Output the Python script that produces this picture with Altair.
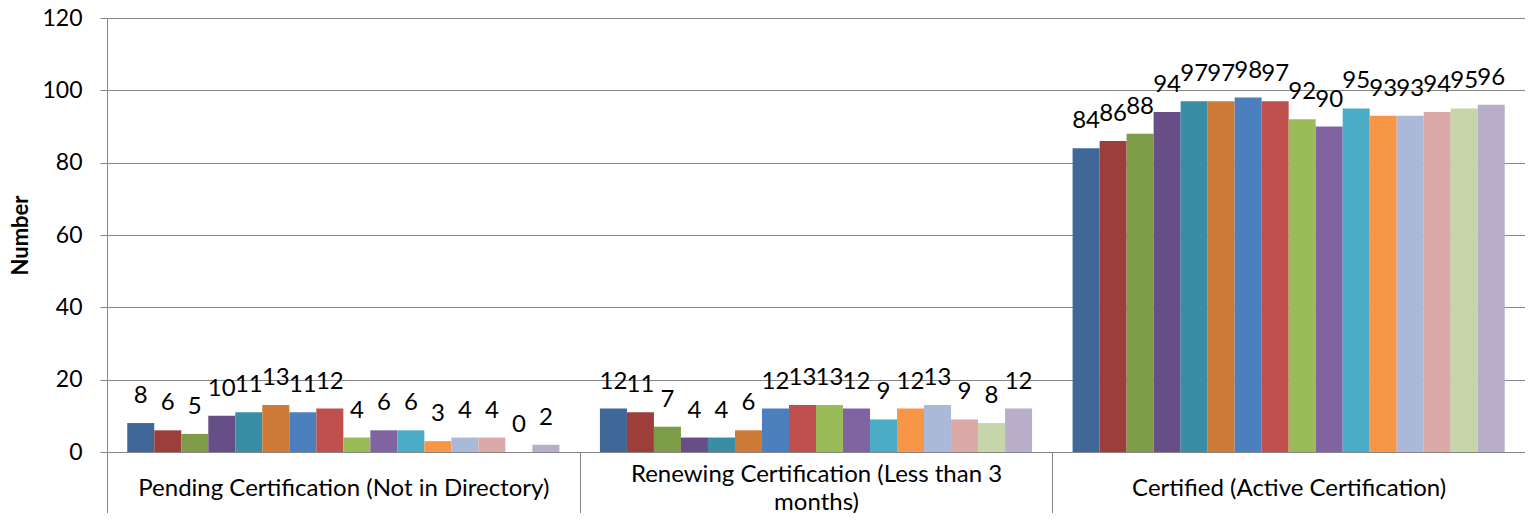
import altair as alt
import pandas as pd

categories = [
    "Pending Certification (Not in Directory)",
    "Renewing Certification (Less than 3 months)",
    "Certified (Active Certification)",
]
series = [f"Series {i}" for i in range(1, 17)]
pending = [8, 6, 5, 10, 11, 13, 11, 12, 4, 6, 6, 3, 4, 4, 0, 2]
renewing = [12, 11, 7, 4, 4, 6, 12, 13, 13, 12, 9, 12, 13, 9, 8, 12]
certified = [84, 86, 88, 94, 97, 97, 98, 97, 92, 90, 95, 93, 93, 94, 95, 96]
colors = [
    "#3F6797", "#9E3E3B", "#7E9B48", "#684E87", "#398DA4", "#CE7B38",
    "#4B7FBE", "#C0504D", "#9BBB59", "#8064A2", "#4BACC6", "#F79646",
    "#AAB9D8", "#DAA9A8", "#C7D6AA", "#B9AECA",
]
y_ticks = [0, 20, 40, 60, 80, 100, 120]

rows = []
for cat, vals in zip(categories, [pending, renewing, certified]):
    for s, v in zip(series, vals):
        rows.append({"category": cat, "series": s, "value": v})
df = pd.DataFrame(rows)

FONT = "Lato"
GRAY = "#868686"

label_expr = (
    "datum.value == 'Renewing Certification (Less than 3 months)' ? "
    "['Renewing Certification (Less than 3', 'months)'] : datum.label"
)
label_baseline = {
    "condition": {
        "test": "datum.value == 'Renewing Certification (Less than 3 months)'",
        "value": "line-bottom",
    },
    "value": "middle",
}

x = alt.X(
    "category:N",
    sort=categories,
    scale=alt.Scale(paddingInner=0, paddingOuter=0),
    axis=alt.Axis(
        title=None, labelAngle=0, labelFont=FONT, labelFontSize=24,
        labelColor="black", labelBaseline=label_baseline, labelPadding=-25,
        labelLineHeight=28, labelLimit=0, labelExpr=label_expr,
        domainColor=GRAY, tickColor=GRAY, tickSize=61, tickBand="extent",
        grid=False,
    ),
)
xo = alt.XOffset("series:N", sort=series,
                 scale=alt.Scale(paddingInner=0, paddingOuter=0.75))
y = alt.Y(
    "value:Q",
    scale=alt.Scale(domain=[0, 120], nice=False),
    axis=alt.Axis(
        values=y_ticks, title="Number", titleFont=FONT, titleFontSize=22,
        titleFontWeight="bold", titleColor="black", titleAngle=-90,
        titleX=-87, titleY=217, titleAlign="center", titleBaseline="middle",
        labelFont=FONT, labelFontSize=23, labelColor="black",
        labelPadding=18, tickSize=7, tickColor=GRAY, domainColor=GRAY,
        gridColor=GRAY, grid=True,
    ),
)

bars = alt.Chart(df).mark_bar().encode(
    x=x, xOffset=xo, y=y,
    color=alt.Color("series:N", sort=series,
                    scale=alt.Scale(domain=series, range=colors), legend=None),
)
text = alt.Chart(df).mark_text(
    baseline="alphabetic", dy=-20, font=FONT, fontSize=24, color="black"
).encode(x=x, xOffset=xo, y=y, text="value:Q")

chart = alt.layer(bars, text).properties(
    width=1418, height=434,
    padding={"left": 99, "top": 10, "right": 0, "bottom": 61},
    autosize=alt.AutoSizeParams(type="none"),
).configure_view(stroke=None)

chart.save("out.html", embed_options={"renderer": "svg", "actions": False})
